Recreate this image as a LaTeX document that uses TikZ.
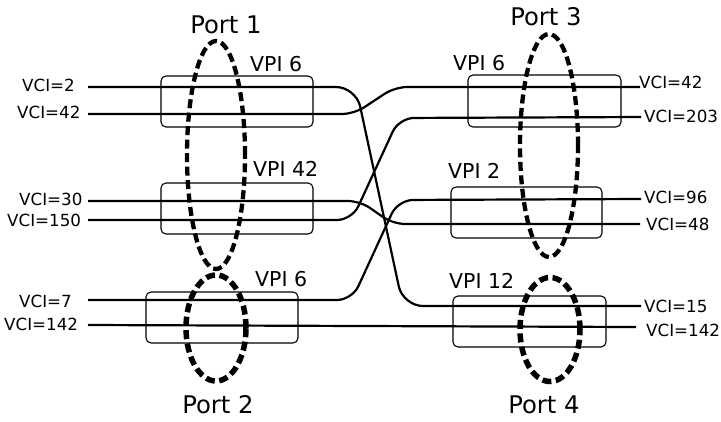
\documentclass[tikz,border=0pt]{standalone}
\usepackage{fontspec}
\setmainfont{DejaVu Sans}
\usetikzlibrary{shapes.geometric}
\tikzset{
  vbox/.style={draw, line width=1.1pt, rounded corners=5pt, inner sep=0pt},
  port/.style={draw, ellipse, inner sep=0pt, dash pattern=on 9pt off 4.5pt},
  conn/.style={line width=2.2pt, rounded corners=14pt},
  vci/.style={inner sep=0pt, font=\fontsize{16.7}{18}\selectfont},
  vpi/.style={inner sep=0pt, font=\fontsize{20.5}{22}\selectfont},
  portlbl/.style={inner sep=0pt, font=\fontsize{24.3}{26}\selectfont, anchor=base},
}
\begin{document}
\begin{tikzpicture}[x=1pt,y=-1pt]
\useasboundingbox (0,0) rectangle (721,421);
% boxes
\node[vbox, minimum width=152pt, minimum height=51pt] (b1) at (237,101.5) {};
\node[vbox, minimum width=152pt, minimum height=51pt] (b2) at (237,208.5) {};
\node[vbox, minimum width=152pt, minimum height=51pt] (b3) at (222,317.5) {};
\node[vbox, minimum width=153pt, minimum height=52pt] (b4) at (544.5,101) {};
\node[vbox, minimum width=151pt, minimum height=51pt] (b5) at (526.5,212.5) {};
\node[vbox, minimum width=153pt, minimum height=51pt] (b6) at (529.5,321.5) {};
% VPI labels
\node[vpi, anchor=base west] (v1) at (250,71) {VPI 6};
\node[vpi, anchor=base west] (v2) at (253,176) {VPI 42};
\node[vpi, anchor=base west] (v3) at (255,286) {VPI 6};
\node[vpi, anchor=base west] (v4) at (453,70) {VPI 6};
\node[vpi, anchor=base west] (v5) at (448,178) {VPI 2};
\node[vpi, anchor=base west] (v6) at (449,288) {VPI 12};
% VCI labels left
\node[vci, anchor=base west] (l1) at (22,91) {VCI=2};
\node[vci, anchor=base west] (l2) at (17,118) {VCI=42};
\node[vci, anchor=base west] (l3) at (19,205) {VCI=30};
\node[vci, anchor=base west] (l4) at (7,226) {VCI=150};
\node[vci, anchor=base west] (l5) at (19,307) {VCI=7};
\node[vci, anchor=base west] (l6) at (4,330) {VCI=142};
% VCI labels right
\node[vci, anchor=base west] (r1) at (639,88) {VCI=42};
\node[vci, anchor=base west] (r2) at (644,122) {VCI=203};
\node[vci, anchor=base west] (r3) at (644,203) {VCI=96};
\node[vci, anchor=base west] (r4) at (646,230) {VCI=48};
\node[vci, anchor=base west] (r5) at (644,312) {VCI=15};
\node[vci, anchor=base west] (r6) at (646,336) {VCI=142};
% line end points
\coordinate (s1) at (88,87);
\coordinate (s2) at (88,114);
\coordinate (s3) at (88,201);
\coordinate (s4) at (88,220);
\coordinate (s5) at (88,300);
\coordinate (s6) at (88,325);
\coordinate (e1) at (640,87);
\coordinate (e2) at (641,117);
\coordinate (e3) at (641,199);
\coordinate (e4) at (640,224);
\coordinate (e5) at (641,306);
\coordinate (e6) at (636,327);
% connectors
\draw[conn, rounded corners=20pt] (s1) -- (356,87) -- (403,306) -- (e5);
\draw[conn, rounded corners=12pt] (s2) -- (354,114) -- (395,87) -- (e1);
\draw[conn, rounded corners=12pt] (s3) -- (360,201) -- (393,224) -- (e4);
\draw[conn, rounded corners=15pt] (s4) -- (352,220) -- (399,118) -- (e2);
\draw[conn, rounded corners=15pt] (s5) -- (352,300) -- (398,200) -- (e3);
\draw[conn] (s6) -- (e6);
% ports
\node[port, line width=4.3pt, minimum width=58pt, minimum height=228pt] (p1) at (216,155) {};
\node[port, line width=5.5pt, minimum width=60pt, minimum height=106pt] (p2) at (216,328) {};
\node[port, line width=4.3pt, minimum width=58pt, minimum height=223pt] (p3) at (549,145.5) {};
\node[port, line width=5.5pt, minimum width=60pt, minimum height=104pt] (p4) at (550,329.5) {};
% port labels
\node[portlbl] (t1) at (226,33) {Port 1};
\node[portlbl] (t2) at (218,413) {Port 2};
\node[portlbl] (t3) at (546,25) {Port 3};
\node[portlbl] (t4) at (544,413) {Port 4};
\end{tikzpicture}
\end{document}
